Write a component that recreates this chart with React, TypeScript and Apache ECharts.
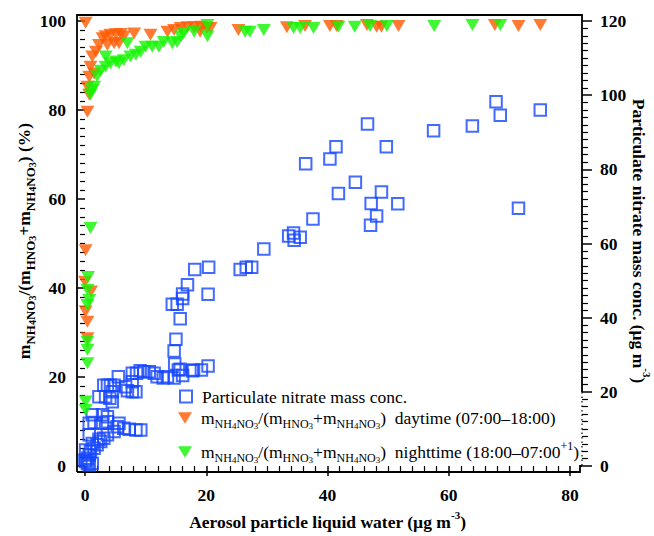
import React, { useEffect, useRef } from 'react';
import * as echarts from 'echarts';

const F = "'Liberation Serif', 'Times New Roman', Times, serif";

// Tick values
const xTicks = [0, 20, 40, 60, 80];
const leftTicks = [0, 20, 40, 60, 80, 100];
const rightTicks = [0, 20, 40, 60, 80, 100, 120];

// [liquid water (ug m-3), particulate nitrate (ug m-3)]
const nitrateConc: number[][] = [
  [46.6, 92.2], [57.5, 90.4], [63.9, 91.7], [67.8, 98.2], [68.5, 94.6], [75.1, 96.0],
  [41.4, 86.1], [49.7, 86.1], [36.4, 81.5], [40.4, 82.8], [44.6, 76.5], [41.8, 73.5],
  [48.9, 73.9], [47.2, 70.8], [51.6, 70.7], [71.5, 69.5], [48.1, 67.4], [47.1, 64.9],
  [37.6, 66.6], [33.6, 62.0], [34.4, 62.8], [35.5, 61.7], [34.5, 60.9], [29.5, 58.5],
  [25.6, 53.0], [26.6, 53.6], [27.5, 53.6], [18.1, 53.0], [20.4, 53.6], [16.9, 48.9],
  [16.1, 46.4], [16.1, 45.2], [14.4, 43.6], [15.2, 43.6], [20.3, 46.3], [15.7, 39.7],
  [15.0, 34.2], [14.7, 31.0], [14.8, 27.5], [20.3, 27.0], [19.2, 25.9], [17.9, 25.9],
  [16.1, 24.4], [15.4, 25.9],
  [17.7, 25.7], [15.7, 26.1], [14.7, 23.7], [13.6, 24.1], [12.9, 23.7], [11.9, 24.1],
  [11.4, 25.0], [10.6, 25.4], [9.7, 25.4], [9.1, 25.7], [8.5, 25.0], [7.8, 25.0],
  [7.8, 22.7], [7.0, 20.3], [7.8, 20.0], [8.4, 20.0], [6.7, 21.4], [5.5, 24.1],
  [4.8, 21.8], [4.2, 21.8], [3.7, 21.8], [3.1, 21.8], [4.5, 20.0], [3.4, 18.7],
  [2.3, 18.7], [4.5, 17.3], [4.1, 18.3],
  [9.2, 9.7], [8.4, 9.7], [7.3, 9.9], [6.4, 10.2], [5.3, 10.6], [5.6, 11.5],
  [3.7, 11.9], [2.9, 11.5], [1.5, 11.7], [0.7, 11.5], [3.7, 13.3], [2.9, 13.8],
  [1.2, 13.8], [0.7, 8.4], [4.8, 9.3], [3.7, 8.4], [3.1, 7.5], [2.6, 6.6],
  [2.0, 5.7], [1.5, 4.8], [0.9, 3.9], [0.7, 3.0], [0.4, 2.1], [0.1, 1.2],
  [0.7, 0.3], [0.4, 0.7], [1.2, 0.7], [0.0, 1.6], [0.1, 4.3], [1.2, 6.1], [2.3, 7.2],
];

// [liquid water, NH4NO3 fraction (%)] daytime
const daytime: number[][] = [
  [0.1, 99.6], [0.4, 79.6], [0.4, 85.2], [0.7, 87.5], [0.9, 89.7], [1.2, 92.0],
  [1.8, 93.1], [2.3, 94.6], [2.9, 96.1], [3.4, 96.6], [4.2, 96.9], [5.1, 97.0],
  [5.9, 97.1], [6.4, 96.5], [4.8, 95.0], [5.6, 95.0], [3.7, 94.6], [8.1, 97.2],
  [10.8, 96.9], [13.6, 97.6], [14.7, 98.0], [15.8, 98.4], [16.9, 98.6], [18.0, 98.6],
  [19.1, 98.7], [20.7, 98.4], [1.5, 88.2], [0.7, 83.4],
  [19.0, 97.6], [20.1, 98.4], [25.3, 98.0], [33.3, 98.6], [36.3, 98.9], [40.4, 98.9],
  [41.5, 98.9], [46.5, 99.1], [48.1, 98.7], [48.9, 98.7], [51.7, 98.9], [67.6, 99.1],
  [71.5, 98.9], [75.1, 99.1],
  [0.1, 48.5], [0.0, 41.4], [1.0, 39.2], [0.1, 34.7], [0.4, 32.4], [0.4, 28.7],
];

// [liquid water, NH4NO3 fraction (%)] nighttime
const nighttime: number[][] = [
  [1.2, 84.5], [1.5, 85.2], [0.9, 83.5], [2.0, 87.6], [2.6, 88.8], [3.4, 89.7],
  [3.4, 92.0], [4.2, 90.5], [5.1, 90.9], [5.6, 90.5], [6.4, 91.2], [7.0, 95.0],
  [7.5, 92.0], [8.4, 92.4], [9.2, 93.1], [10.0, 94.2], [11.1, 94.2], [12.2, 94.2],
  [13.0, 95.3], [14.4, 95.0], [15.2, 95.3], [15.8, 96.5], [16.3, 97.3], [18.0, 97.6],
  [20.2, 99.1], [20.2, 96.6],
  [26.4, 97.6], [27.2, 97.6], [29.5, 98.0], [34.4, 98.4], [35.5, 98.4], [37.7, 98.4],
  [41.8, 98.7], [44.5, 98.7], [47.0, 98.9], [49.8, 98.9], [57.6, 98.9], [63.9, 99.1],
  [68.5, 99.1],
  [0.9, 53.5], [0.5, 42.5], [0.4, 39.6], [0.7, 37.3], [0.4, 36.2], [0.4, 27.9],
  [0.4, 26.1], [0.4, 23.1], [0.1, 14.5], [0.1, 12.6],
];

const BLUE = '#1446ff';
const ORANGE = '#ff5a00';
const GREEN = '#12f500';

const boldRich = {
  b: { fontFamily: F, fontSize: 17.5, fontWeight: 'bold', fill: '#000', lineHeight: 26, verticalAlign: 'middle' },
  s: { fontFamily: F, fontSize: 13, fontWeight: 'bold', fill: '#000', lineHeight: 13, verticalAlign: 'bottom' },
  ss: { fontFamily: F, fontSize: 10, fontWeight: 'bold', fill: '#000', lineHeight: 7, verticalAlign: 'bottom' },
  sup: { fontFamily: F, fontSize: 11, fontWeight: 'bold', fill: '#000', lineHeight: 11, verticalAlign: 'top' },
};

const legRich = {
  n: { fontFamily: F, fontSize: 17.5, color: '#000', lineHeight: 24, verticalAlign: 'middle' },
  s: { fontFamily: F, fontSize: 12, color: '#000', lineHeight: 12, verticalAlign: 'bottom' },
  ss: { fontFamily: F, fontSize: 9, color: '#000', lineHeight: 7, verticalAlign: 'bottom' },
  sup: { fontFamily: F, fontSize: 12, color: '#000', lineHeight: 12, verticalAlign: 'top' },
};

const fracLeg = '{n|m}{s|NH}{ss|4}{s|NO}{ss|3}{n|/(m}{s|HNO}{ss|3}{n|+m}{s|NH}{ss|4}{s|NO}{ss|3}';

const legendText: Record<string, string> = {
  'Particulate nitrate mass conc.': '{n|Particulate nitrate mass conc.}',
  daytime: fracLeg + '{n|)  daytime (07:00\u201318:00)}',
  nighttime: fracLeg + '{n|)  nighttime (18:00\u201307:00}{sup|+1}{n|)}',
};

const xTitle = '{b|Aerosol particle liquid water (\u00b5g m}{sup|-3}{b|)}';
const leftTitle = '{b|m}{s|NH}{ss|4}{s|NO}{ss|3}{b|/(m}{s|HNO}{ss|3}{b|+m}{s|NH}{ss|4}{s|NO}{ss|3}{b|) (%)}';
const rightTitle = '{b|Particulate nitrate mass conc. (\u00b5g m}{sup|-3}{b|)}';

const TRI_DOWN = 'path://M0,0L12,0L6,10Z';

export default function App() {
  const ref = useRef<HTMLDivElement>(null);
  useEffect(() => {
    document.body.style.margin = '0';
    const chart = echarts.init(ref.current!, null, { renderer: 'svg' });
    const tickLine = { color: '#000', width: 1.5 };
    const minorLine = { color: '#000', width: 1.2 };
    const labelStyle = { fontFamily: F, fontSize: 17.5, fontWeight: 'bold', color: '#000' };
    const legendBase = {
      orient: 'vertical',
      padding: 0,
      selectedMode: false,
      symbolRotate: 0,
      formatter: (name: string) => legendText[name],
    };
    const titleStyle = (text: string) => ({
      text, rich: boldRich, fontFamily: F, fontSize: 17.5, fontWeight: 'bold', fill: '#000',
      align: 'center', verticalAlign: 'middle',
    });
    chart.setOption({
      animation: false,
      textStyle: { fontFamily: F },
      grid: { left: 85, right: 84, top: 21, bottom: 70, containLabel: false },
      xAxis: {
        type: 'value', min: xTicks[0], max: xTicks[xTicks.length - 1], interval: 20, offset: 6,
        axisLine: { show: false },
        axisTick: { show: true, length: 10, lineStyle: tickLine },
        minorTick: { show: true, splitNumber: 10, length: 5, lineStyle: minorLine },
        splitLine: { show: false },
        axisLabel: { ...labelStyle, margin: 14 },
      },
      yAxis: [
        {
          type: 'value', min: leftTicks[0], max: leftTicks[leftTicks.length - 1], interval: 20,
          position: 'left', offset: 8,
          axisLine: { show: false },
          axisTick: { show: true, length: 8, lineStyle: tickLine },
          minorTick: { show: true, splitNumber: 10, length: 5, lineStyle: minorLine },
          splitLine: { show: false },
          axisLabel: { ...labelStyle, margin: 11 },
        },
        {
          type: 'value', min: rightTicks[0], max: rightTicks[rightTicks.length - 1], interval: 20,
          position: 'right', offset: 12,
          axisLine: { show: false },
          axisTick: { show: true, length: 10, lineStyle: tickLine },
          minorTick: { show: true, splitNumber: 10, length: 6, lineStyle: minorLine },
          splitLine: { show: false },
          axisLabel: { ...labelStyle, margin: 18 },
        },
      ],
      legend: [
        {
          ...legendBase, left: 179, top: 387.5, itemWidth: 12, itemHeight: 12,
          data: [{ name: 'Particulate nitrate mass conc.', icon: 'rect',
            itemStyle: { color: 'rgba(0,0,0,0)', borderColor: BLUE, borderWidth: 2 } }],
          textStyle: { fontFamily: F, fontSize: 17.5, color: '#000', rich: legRich, padding: [0, 0, 0, 5] },
        },
        {
          ...legendBase, left: 178, top: 409, itemWidth: 14, itemHeight: 12,
          data: [{ name: 'daytime', icon: TRI_DOWN, itemStyle: { color: ORANGE } }],
          textStyle: { fontFamily: F, fontSize: 17.5, color: '#000', rich: legRich, padding: [0, 0, 0, 4] },
        },
        {
          ...legendBase, left: 178, top: 440, itemWidth: 14, itemHeight: 12,
          data: [{ name: 'nighttime', icon: TRI_DOWN, itemStyle: { color: GREEN } }],
          textStyle: { fontFamily: F, fontSize: 17.5, color: '#000', rich: legRich, padding: [0, 0, 0, 4] },
        },
      ],
      series: [
        {
          name: 'Particulate nitrate mass conc.', type: 'scatter', yAxisIndex: 1,
          symbol: 'rect', symbolSize: 11.5, clip: false,
          itemStyle: { color: 'rgba(0,0,0,0)', borderColor: BLUE, borderWidth: 2 },
          data: nitrateConc,
        },
        {
          name: 'daytime', type: 'scatter', yAxisIndex: 0,
          symbol: 'triangle', symbolRotate: 180, symbolSize: [14, 12], clip: false,
          itemStyle: { color: ORANGE },
          data: daytime,
        },
        {
          name: 'nighttime', type: 'scatter', yAxisIndex: 0,
          symbol: 'triangle', symbolRotate: 180, symbolSize: [14, 12], clip: false,
          itemStyle: { color: GREEN },
          data: nighttime,
        },
      ],
      graphic: [
        {
          type: 'polyline', silent: true,
          shape: { points: [[77, 472], [77, 15], [582, 15], [582, 392]] },
          style: { stroke: '#000', lineWidth: 1.8, fill: null },
        },
        {
          type: 'line', silent: true,
          shape: { x1: 582, y1: 392, x2: 582, y2: 466 },
          style: { stroke: '#000', lineWidth: 1.2, lineDash: [1.5, 3] },
        },
        {
          type: 'polyline', silent: true,
          shape: { points: [[77, 472], [580, 472], [580, 466], [582, 466]] },
          style: { stroke: '#000', lineWidth: 1.8, fill: null },
        },
        { type: 'text', silent: true, x: 327.5, y: 522, style: titleStyle(xTitle) },
        { type: 'text', silent: true, x: 24, y: 241, rotation: Math.PI / 2, style: titleStyle(leftTitle) },
        { type: 'text', silent: true, x: 639, y: 241, rotation: -Math.PI / 2, style: titleStyle(rightTitle) },
      ],
    });
    return () => chart.dispose();
  }, []);
  return <div ref={ref} style={{ width: 654, height: 536 }} />;
}
